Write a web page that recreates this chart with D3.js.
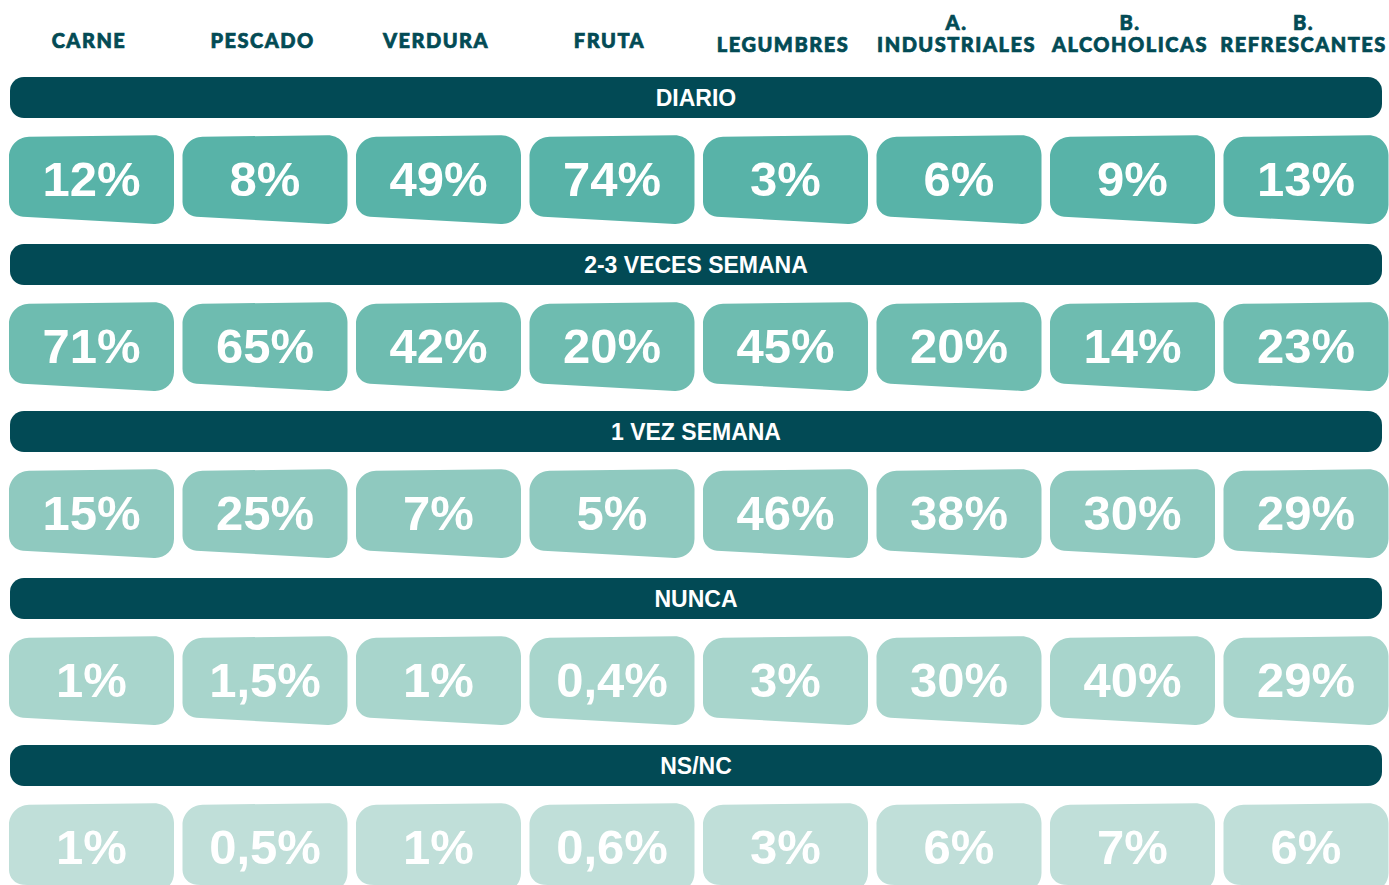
<!DOCTYPE html>
<html>
    <head>
        <meta charset="utf-8">
        <title>Frecuencia de consumo</title>
        <script src="https://d3js.org/d3.v7.min.js"></script>
        <style>
            html, body {
                margin: 0;
                padding: 0;
                overflow: hidden;
                background: #FFF;
            }
            #container {
                display: block;
            }
            .header text {
                font: 900 20px Lato, "Liberation Sans", sans-serif;
                letter-spacing: 1.5px;
                fill: #034b55;
                stroke: #034b55;
                stroke-width: 0.7px;
            }
            .banner text {
                font: bold 23px "Liberation Sans", Arial, sans-serif;
                fill: #FFF;
            }
            .tile text {
                font: bold 49px "Liberation Sans", Arial, sans-serif;
                fill: #FFF;
            }
        </style>
    </head>
    <body>
        <svg id="container" width="1389" height="885"></svg>
        <script>
            const categories = ['CARNE', 'PESCADO', 'VERDURA', 'FRUTA', 'LEGUMBRES', 'INDUSTRIALES', 'ALCOHOLICAS', 'REFRESCANTES'];
            const categoryPrefix = ['', '', '', '', '', 'A.', 'B.', 'B.'];
            const frequencies = ['DIARIO', '2-3 VECES SEMANA', '1 VEZ SEMANA', 'NUNCA', 'NS/NC'];

            const diario = [12, 8, 49, 74, 3, 6, 9, 13];
            const semana23 = [71, 65, 42, 20, 45, 20, 14, 23];
            const semana1 = [15, 25, 7, 5, 46, 38, 30, 29];
            const nunca = [1, 1.5, 1, 0.4, 3, 30, 40, 29];
            const nsnc = [1, 0.5, 1, 0.6, 3, 6, 7, 6];

            const rowValues = [diario, semana23, semana1, nunca, nsnc];
            const tileColors = ['#58b3a8', '#6ebcb0', '#8fc9bf', '#a8d5cc', '#c0dfd9'];
            const bannerColor = '#024a55';

            const svg = d3.select('#container');

            const x = d3.scaleBand()
                .domain(categories)
                .range([9, 1388.5])
                .paddingInner(0.049);

            const y = d3.scaleBand()
                .domain(frequencies)
                .range([77, 77 + 167 * frequencies.length]);

            const fmt = d3.formatLocale({decimal: ',', thousands: '.', grouping: [3], currency: ['', '€']})
                .format('.1~f');

            // rounded quadrilateral: corners softened with cubic curves
            function roundedPoly(pts, radii) {
                const n = pts.length;
                let d = '';
                pts.forEach((v, i) => {
                    const p0 = pts[(i + n - 1) % n], p2 = pts[(i + 1) % n];
                    const r = radii[i];
                    const l0 = Math.hypot(p0[0] - v[0], p0[1] - v[1]);
                    const l2 = Math.hypot(p2[0] - v[0], p2[1] - v[1]);
                    const a = [v[0] + (p0[0] - v[0]) * r / l0, v[1] + (p0[1] - v[1]) * r / l0];
                    const b = [v[0] + (p2[0] - v[0]) * r / l2, v[1] + (p2[1] - v[1]) * r / l2];
                    const k = 0.55;
                    d += (i === 0 ? 'M' : 'L') + a[0] + ',' + a[1];
                    d += 'C' + (a[0] + (v[0] - a[0]) * k) + ',' + (a[1] + (v[1] - a[1]) * k) + ' '
                        + (b[0] + (v[0] - b[0]) * k) + ',' + (b[1] + (v[1] - b[1]) * k) + ' '
                        + b[0] + ',' + b[1];
                });
                return d + 'Z';
            }

            const w = x.bandwidth();
            const tilePath = roundedPoly([[0, 2], [w, 0], [w, 90], [0, 81]], [20, 20, 20, 14]);

            // column headers
            const header = svg.append('g').attr('class', 'header');
            const heads = header.selectAll('g')
                .data(categories.map((c, i) => ({name: c, prefix: categoryPrefix[i], i})))
                .join('g')
                .attr('transform', d => `translate(${x(d.name) + w / 2 - 2.5} 0)`);
            heads.append('text')
                .attr('text-anchor', 'middle')
                .attr('y', d => (d.prefix || d.i >= 4) ? 52 : 48)
                .text(d => d.name);
            heads.filter(d => d.prefix)
                .append('text')
                .attr('text-anchor', 'middle')
                .attr('y', 30)
                .text(d => d.prefix);

            // frequency rows
            const rows = svg.selectAll('g.row')
                .data(frequencies.map((f, i) => ({name: f, values: rowValues[i], color: tileColors[i]})))
                .join('g')
                .attr('class', 'row')
                .attr('transform', d => `translate(0 ${y(d.name)})`);

            const banner = rows.append('g').attr('class', 'banner');
            banner.append('rect')
                .attr('x', 10)
                .attr('width', 1372)
                .attr('height', 41)
                .attr('rx', 14)
                .attr('fill', bannerColor);
            banner.append('text')
                .attr('x', 696)
                .attr('y', 29)
                .attr('text-anchor', 'middle')
                .text(d => d.name);

            const tiles = rows.selectAll('g.tile')
                .data(d => d.values.map((v, i) => ({cat: categories[i], value: v, color: d.color})))
                .join('g')
                .attr('class', 'tile')
                .attr('transform', d => `translate(${x(d.cat)} 58)`);
            tiles.append('path')
                .attr('d', tilePath)
                .attr('fill', d => d.color);
            tiles.append('text')
                .attr('x', w / 2)
                .attr('y', 61)
                .attr('text-anchor', 'middle')
                .text(d => fmt(d.value) + '%');
        </script>
    </body>
</html>
